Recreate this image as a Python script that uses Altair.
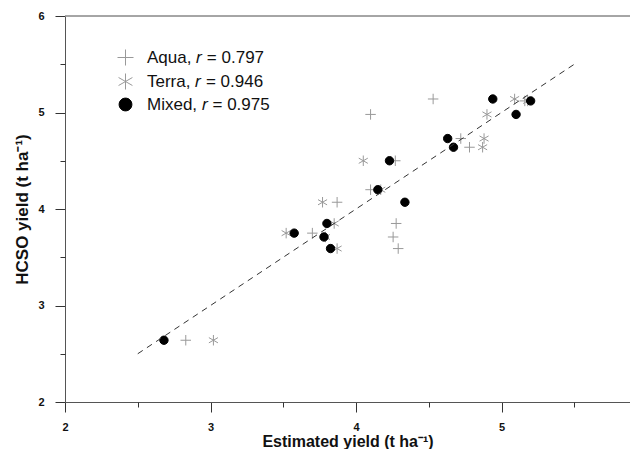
import altair as alt
import pandas as pd

# HCSO (observed) yield, shared by all three estimations
hcso = [2.64, 3.59, 3.71, 3.75, 3.85, 4.07, 4.20, 4.50, 4.64, 4.73, 4.98, 5.12, 5.14]
aqua_est = [2.83, 4.29, 4.255, 3.70, 4.276, 3.87, 4.10, 4.27, 4.78, 4.72, 4.10, 5.16, 4.53]
terra_est = [3.02, 3.87, 3.79, 3.52, 3.85, 3.77, 4.17, 4.05, 4.87, 4.88, 4.90, 5.18, 5.09]
mixed_est = [2.68, 3.825, 3.78, 3.575, 3.80, 4.336, 4.15, 4.23, 4.67, 4.63, 5.10, 5.20, 4.94]

series = ["Aqua, 𝑟 = 0.797", "Terra, 𝑟 = 0.946", "Mixed, 𝑟 = 0.975"]

# 1:1 dashed line
line_x = [2.5, 5.5]
line_y = [2.5, 5.5]

x_major = [2, 3, 4, 5]
x_minor = [2.5, 3.5, 4.5, 5.5]
y_major = [2, 3, 4, 5, 6]
y_minor = [2.5, 3.5, 4.5, 5.5]

rows = []
for name, est in zip(series, [aqua_est, terra_est, mixed_est]):
    for xv, yv in zip(est, hcso):
        rows.append({"est": xv, "hcso": yv, "series": name})
pts = pd.DataFrame(rows)
ln = pd.DataFrame({"x": line_x, "y": line_y})

PLUS = "M-1,0L1,0M0,-1L0,1"
STAR = "M0,-1L0,1M-0.866,-0.5L0.866,0.5M-0.866,0.5L0.866,-0.5"
DOT = "M0.8,0A0.8,0.8,0,1,1,-0.8,0A0.8,0.8,0,1,1,0.8,0Z"

PW = 565
xscale = alt.Scale(domain=[2, 5.883], nice=False, zero=False)
yscale = alt.Scale(domain=[2, 6], nice=False, zero=False)

tickfont = "Liberation Sans Narrow, Liberation Sans, Arial"
titlefont = "Liberation Sans, Arial"

legend = alt.Legend(
    title=None, orient="none", legendX=52, legendY=33, padding=0,
    symbolSize=256, symbolStrokeWidth=1, labelFont=titlefont,
    labelFontSize=17, labelColor="#111", labelOffset=13, rowPadding=3,
    labelLimit=400, symbolType="circle",
)

points = alt.Chart(pts).mark_point(size=110, strokeWidth=1, opacity=1).encode(
    x=alt.X("est:Q", scale=xscale, axis=alt.Axis(
        values=x_major, title="Estimated yield (t ha⁻¹)", tickSize=10, grid=False,
        labelPadding=9, labelFont=tickfont, labelFontSize=11, labelFontWeight="bold",
        labelColor="#111", titleFont=titlefont, titleFontSize=16, titleFontWeight="bold",
        titleColor="#111", titleY=39, titleBaseline="middle", domainColor="#555",
        tickColor="#333", labelFlush=False, orient="bottom")),
    y=alt.Y("hcso:Q", scale=yscale, axis=alt.Axis(
        values=y_major, title="HCSO yield (t ha⁻¹)", tickSize=10, grid=False,
        labelPadding=11, labelFont=tickfont, labelFontSize=11, labelFontWeight="bold",
        labelColor="#111", titleFont=titlefont, titleFontSize=17, titleFontWeight="bold",
        titleColor="#111", titleX=-43, titleBaseline="middle", domainColor="#555",
        tickColor="#333", labelFlush=False, orient="left")),
    shape=alt.Shape("series:N", scale=alt.Scale(domain=series, range=[PLUS, STAR, DOT]), legend=legend),
    fill=alt.Fill("series:N", scale=alt.Scale(domain=series, range=["transparent", "transparent", "#000000"]), legend=legend),
    stroke=alt.Stroke("series:N", scale=alt.Scale(domain=series, range=["#999999", "#999999", "#000000"]), legend=legend),
    order=alt.Order("series_order:Q"),
).transform_calculate(
    series_order="indexof(['" + "','".join(series) + "'], datum.series)"
)

line = alt.Chart(ln).mark_line(color="#333333", strokeWidth=1, strokeDash=[6, 5]).encode(
    x=alt.X("x:Q", scale=xscale, axis=alt.Axis(
        values=x_minor, labels=False, title=None, domain=False, grid=False,
        tickSize=5, tickColor="#333", orient="bottom")),
    y=alt.Y("y:Q", scale=yscale, axis=alt.Axis(
        values=y_minor, labels=False, title=None, domain=False, grid=False,
        tickSize=5, tickColor="#333", orient="left")),
)

# top frame line of the plot area
top = alt.Chart(ln).mark_rule(color="#888888", strokeWidth=1).encode(
    x=alt.value(0), x2=alt.value(PW), y=alt.value(0)
)

chart = alt.layer(top, points, line).resolve_axis(x="independent", y="independent").properties(
    width=PW, height=386,
    padding={"left": 57, "top": 8, "right": 0, "bottom": 47},
    autosize="none",
    background="white",
).configure_view(stroke=None)

chart.save("out.html", embed_options={"renderer": "svg", "actions": False})
